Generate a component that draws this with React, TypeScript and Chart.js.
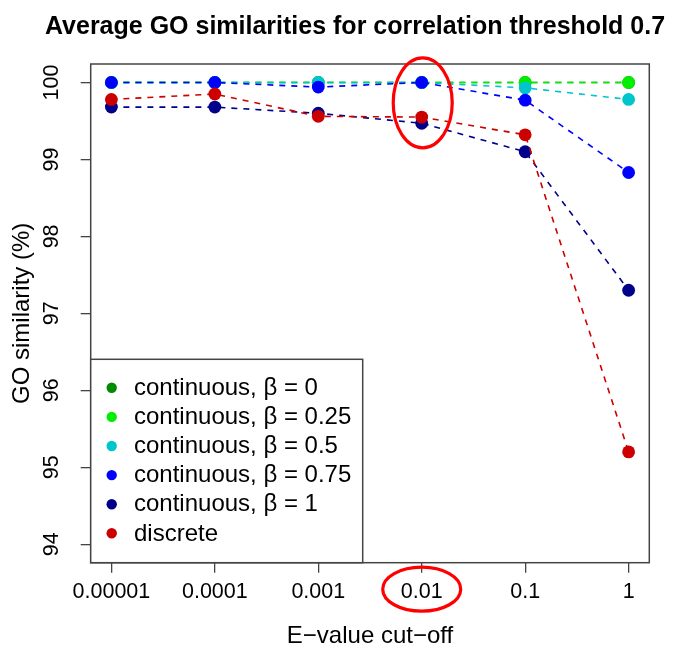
import React, { useEffect, useRef } from "react";
import { Chart, registerables } from "chart.js";

Chart.register(...registerables);

const TITLE = "Average GO similarities for correlation threshold 0.7";
const X_TITLE = "E\u2212value cut\u2212off";
const Y_TITLE = "GO similarity (%)";

const EVALUE_CUTOFFS = ["0.00001", "0.0001", "0.001", "0.01", "0.1", "1"];
const Y_TICKS = [94, 95, 96, 97, 98, 99, 100];

const SERIES_LABELS = [
  "continuous, \u03b2 = 0",
  "continuous, \u03b2 = 0.25",
  "continuous, \u03b2 = 0.5",
  "continuous, \u03b2 = 0.75",
  "continuous, \u03b2 = 1",
  "discrete",
];
const SERIES_COLORS = ["#008B00", "#00EE00", "#00C5CD", "#0000FF", "#00008B", "#CD0000"];

const CONT_BETA_0 = [100, 100, 100, 100, 100, 100];
const CONT_BETA_025 = [100, 100, 100, 100, 100, 100];
const CONT_BETA_05 = [100, 100, 100, 100, 99.93, 99.78];
const CONT_BETA_075 = [100, 100, 99.94, 100, 99.77, 98.83];
const CONT_BETA_1 = [99.68, 99.68, 99.6, 99.47, 99.1, 97.3];
const DISCRETE = [99.78, 99.85, 99.56, 99.55, 99.32, 95.2];

const SERIES_VALUES = [CONT_BETA_0, CONT_BETA_025, CONT_BETA_05, CONT_BETA_075, CONT_BETA_1, DISCRETE];

const HIGHLIGHT_INDEX = 3;
const HIGHLIGHT_CENTER_VALUE = 99.735;

const FONT = '"Liberation Sans", Arial, Helvetica, sans-serif';
const AXIS_COLOR = "#444444";

const decorPlugin = {
  id: "decor",
  afterDraw(chart: any) {
    const { ctx, chartArea: a, scales } = chart;
    const xs = scales.x;
    const ys = scales.y;
    ctx.save();

    // plot box
    ctx.strokeStyle = AXIS_COLOR;
    ctx.lineWidth = 1.5;
    ctx.strokeRect(a.left, a.top, a.right - a.left, a.bottom - a.top);

    // y tick labels (rotated, R style)
    ctx.fillStyle = "#000";
    ctx.font = `21.5px ${FONT}`;
    Y_TICKS.forEach((v) => {
      const y = ys.getPixelForValue(v);
      ctx.save();
      ctx.translate(a.left - 39, y);
      ctx.rotate(-Math.PI / 2);
      ctx.textAlign = "center";
      ctx.textBaseline = "middle";
      ctx.fillText(String(v), 0, 0);
      ctx.restore();
    });

    // main title
    ctx.font = `bold 25px ${FONT}`;
    ctx.textAlign = "center";
    ctx.textBaseline = "alphabetic";
    ctx.fillText(TITLE, (a.left + a.right) / 2 - 15, a.top - 30.5);

    // legend (bottom-left)
    const lw = 272;
    const lh = 203.4;
    const lx = a.left;
    const ly = a.bottom - lh;
    ctx.fillStyle = "#fff";
    ctx.fillRect(lx, ly, lw, lh);
    ctx.strokeStyle = AXIS_COLOR;
    ctx.lineWidth = 1.5;
    ctx.strokeRect(lx, ly, lw, lh);
    ctx.font = `24px ${FONT}`;
    ctx.textAlign = "left";
    ctx.textBaseline = "alphabetic";
    SERIES_LABELS.forEach((lab, i) => {
      const rowY = a.bottom - 29.4 - (SERIES_LABELS.length - 1 - i) * 29.1;
      ctx.fillStyle = SERIES_COLORS[i];
      ctx.beginPath();
      ctx.arc(lx + 21, rowY, 5.2, 0, Math.PI * 2);
      ctx.fill();
      ctx.fillStyle = "#000";
      ctx.fillText(lab, lx + 43.3, rowY + 7.2);
    });

    // red highlight ellipses
    ctx.strokeStyle = "#FF0000";
    ctx.lineWidth = 3.2;
    ctx.beginPath();
    ctx.ellipse(
      xs.getPixelForValue(HIGHLIGHT_INDEX) + 1,
      ys.getPixelForValue(HIGHLIGHT_CENTER_VALUE),
      29.5,
      45,
      0,
      0,
      Math.PI * 2
    );
    ctx.stroke();
    ctx.beginPath();
    ctx.ellipse(xs.getPixelForValue(HIGHLIGHT_INDEX), a.bottom + 26.5, 39, 22, 0, 0, Math.PI * 2);
    ctx.stroke();

    ctx.restore();
  },
};

export default function App() {
  const canvasRef = useRef<HTMLCanvasElement | null>(null);

  useEffect(() => {
    const canvas = canvasRef.current;
    if (!canvas) return;
    const datasets = SERIES_VALUES.map((vals, i) => ({
      label: SERIES_LABELS[i],
      data: vals.map((v, j) => ({ x: j, y: v })),
      borderColor: SERIES_COLORS[i],
      backgroundColor: SERIES_COLORS[i],
      pointBackgroundColor: SERIES_COLORS[i],
      pointBorderWidth: 0,
      pointRadius: 6.4,
      borderWidth: 1.6,
      borderDash: [6, 6],
      showLine: true,
      fill: false,
      tension: 0,
      order: SERIES_VALUES.length - 1 - i,
    }));

    const chart = new Chart(canvas, {
      type: "scatter",
      data: { datasets },
      options: {
        responsive: false,
        animation: false,
        devicePixelRatio: 1,
        layout: { padding: { top: 64, right: 23.7, bottom: 0, left: 0 } },
        plugins: {
          legend: { display: false },
          tooltip: { enabled: false },
          title: { display: false },
        },
        scales: {
          x: {
            type: "linear",
            position: "bottom",
            min: -0.2,
            max: 5.2,
            afterBuildTicks: (scale: any) => {
              scale.ticks = EVALUE_CUTOFFS.map((_, i) => ({ value: i }));
            },
            afterFit: (scale: any) => {
              scale.height = 86.3;
            },
            grid: {
              display: true,
              drawOnChartArea: false,
              drawTicks: true,
              tickLength: 10,
              color: AXIS_COLOR,
              lineWidth: 1.3,
            },
            border: { display: false },
            ticks: {
              autoSkip: false,
              maxRotation: 0,
              minRotation: 0,
              padding: 6.3,
              color: "#000",
              font: { family: FONT, size: 21.5 },
              callback: (v: any) => EVALUE_CUTOFFS[Math.round(Number(v))] ?? "",
            },
            title: {
              display: true,
              text: X_TITLE,
              color: "#000",
              font: { family: FONT, size: 24, lineHeight: 1 },
              padding: { top: 0, bottom: 0.8 },
            },
          },
          y: {
            type: "linear",
            position: "left",
            min: 93.76,
            max: 100.24,
            afterBuildTicks: (scale: any) => {
              scale.ticks = Y_TICKS.map((v) => ({ value: v }));
            },
            afterFit: (scale: any) => {
              scale.width = 90.7;
            },
            grid: {
              display: true,
              drawOnChartArea: false,
              drawTicks: true,
              tickLength: 10,
              color: AXIS_COLOR,
              lineWidth: 1.3,
            },
            border: { display: false },
            ticks: { display: false },
            title: {
              display: true,
              text: Y_TITLE,
              color: "#000",
              font: { family: FONT, size: 24, lineHeight: 1 },
              padding: { top: 10.7, bottom: 0 },
            },
          },
        },
      },
      plugins: [decorPlugin],
    });

    return () => chart.destroy();
  }, []);

  return (
    <div style={{ position: "absolute", left: 0, top: 0, width: 673, height: 649, background: "#fff" }}>
      <canvas ref={canvasRef} width={673} height={649} style={{ display: "block" }} />
    </div>
  );
}
